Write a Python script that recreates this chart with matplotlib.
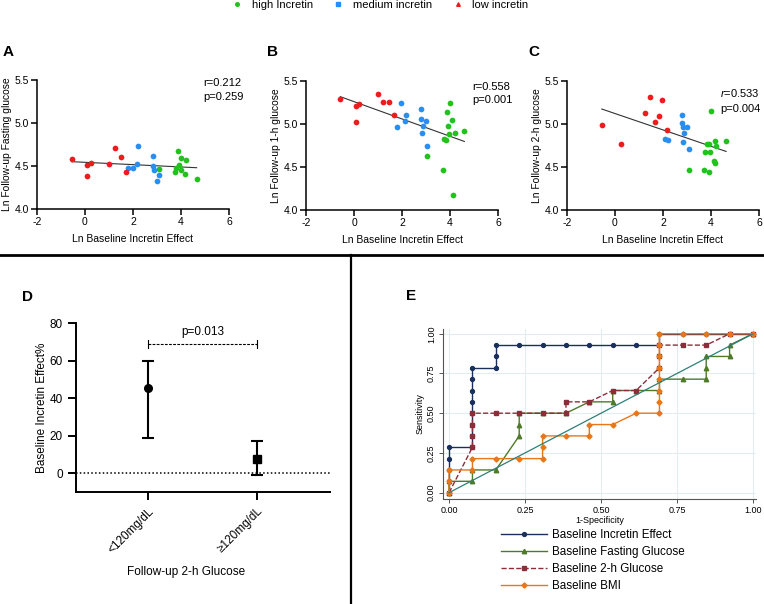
import numpy as np
import matplotlib
matplotlib.use('Agg')
import matplotlib.pyplot as plt
from matplotlib.lines import Line2D

plt.rcParams['font.family'] = ['Liberation Sans', 'DejaVu Sans']
plt.rcParams['mathtext.fontset'] = 'custom'
plt.rcParams['mathtext.rm'] = 'Liberation Sans'
plt.rcParams['mathtext.it'] = 'Liberation Sans:italic'
plt.rcParams['axes.unicode_minus'] = False

RED, BLUE, GREEN = '#ee1c1c', '#2a8ef0', '#22c21c'

# --- panel A: ln follow-up fasting glucose vs ln baseline incretin effect
a_low_x = [-0.55, 0.10, 0.10, 0.25, 1.00, 1.25, 1.50, 1.70]
a_low_y = [4.58, 4.51, 4.38, 4.54, 4.52, 4.71, 4.61, 4.43]
a_med_x = [2.20, 2.16, 1.81, 2.00, 2.83, 2.83, 2.87, 3.08, 3.02]
a_med_y = [4.735, 4.52, 4.48, 4.48, 4.62, 4.50, 4.455, 4.40, 4.33]
a_high_x = [3.87, 3.99, 4.22, 3.91, 3.79, 3.73, 3.98, 4.18, 3.09, 4.65]
a_high_y = [4.68, 4.59, 4.575, 4.51, 4.48, 4.43, 4.45, 4.41, 4.47, 4.35]

# --- panel B: 1-h glucose
b_low_x = [-0.57, 0.08, 0.21, 0.08, 0.98, 1.22, 1.46, 1.67]
b_low_y = [5.29, 5.21, 5.23, 5.02, 5.35, 5.26, 5.26, 5.10]
b_med_x = [1.96, 2.17, 2.12, 1.81, 2.79, 2.79, 2.98, 2.86, 2.82, 3.04]
b_med_y = [5.25, 5.10, 5.04, 4.97, 5.18, 5.06, 5.03, 4.98, 4.90, 4.75]
b_high_x = [4.01, 3.87, 3.92, 4.10, 3.95, 4.20, 4.60, 3.76, 3.85, 3.04, 3.70, 4.13]
b_high_y = [5.25, 5.14, 4.98, 5.05, 4.88, 4.90, 4.92, 4.82, 4.81, 4.63, 4.46, 4.17]

# --- panel C: 2-h glucose
c_low_x = [-0.55, 0.24, 1.24, 1.47, 1.97, 1.82, 1.68, 2.15]
c_low_y = [4.99, 4.77, 5.13, 5.31, 5.28, 5.09, 5.02, 4.93]
c_med_x = [2.79, 2.80, 2.82, 3.00, 2.89, 2.07, 2.19, 2.84, 3.07]
c_med_y = [5.11, 5.01, 4.96, 4.97, 4.89, 4.83, 4.81, 4.79, 4.71]
c_high_x = [4.02, 3.91, 3.83, 4.17, 4.63, 4.21, 3.96, 3.77, 4.12, 4.15, 3.07, 3.72, 3.91]
c_high_y = [5.15, 4.77, 4.77, 4.80, 4.80, 4.74, 4.68, 4.67, 4.57, 4.55, 4.47, 4.46, 4.44]

# --- panel D: baseline incretin effect by follow-up 2-h glucose
d_groups = ['<120mg/dL', '\u2265120mg/dL']
d_mean = [45.5, 7.5]
d_low = [18.5, -1.0]
d_high = [60.0, 17.0]

# --- panel E: ROC curves (1-specificity, sensitivity)
roc_labels = ['Baseline Incretin Effect', 'Baseline Fasting Glucose',
              'Baseline 2-h Glucose', 'Baseline BMI']
inc_fpr = [0, 0, 0, 0, 0, 1, 1, 1, 1, 1, 1, 1, 1, 2, 2, 2, 3, 4, 5, 6, 7, 8, 9, 9, 10, 11, 12, 13]
inc_tpr = [0, 1, 2, 3, 4, 4, 5, 6, 7, 8, 9, 10, 11, 11, 12, 13, 13, 13, 13, 13, 13, 13, 13, 14, 14, 14, 14, 14]
fast_fpr = [0, 0, 1, 1, 2, 3, 3, 3, 4, 5, 6, 7, 7, 8, 9, 9, 10, 11, 11, 11, 12, 12, 13]
fast_tpr = [0, 1, 1, 2, 2, 5, 6, 7, 7, 7, 8, 8, 9, 9, 9, 10, 10, 10, 11, 12, 12, 13, 14]
g2h_fpr = [0, 1, 1, 1, 1, 2, 3, 4, 5, 5, 6, 7, 8, 9, 9, 9, 10, 11, 12, 13]
g2h_tpr = [0, 4, 5, 6, 7, 7, 7, 7, 7, 8, 8, 9, 9, 11, 12, 13, 13, 13, 14, 14]
bmi_fpr = [0, 0, 0, 1, 1, 2, 3, 4, 4, 4, 5, 6, 6, 7, 8, 9, 9, 9, 9, 9, 9, 9, 9, 10, 11, 12, 13]
bmi_tpr = [0, 1, 2, 2, 3, 3, 3, 3, 4, 5, 5, 5, 6, 6, 7, 7, 8, 9, 10, 11, 12, 13, 14, 14, 14, 14, 14]
n_neg, n_pos = 13, 14

W, H = 764, 604


def box(l, t, r, b):
    return [l / W, 1 - b / H, (r - l) / W, (b - t) / H]


fig = plt.figure(figsize=(W / 100, H / 100), dpi=100)


def scatter_panel(rect, low, med, high, ylabel, rtxt, ptxt, rpos, ppos):
    ax = fig.add_axes(rect)
    for (x, y), c in zip([high, med, low], [GREEN, BLUE, RED]):
        ax.scatter(x, y, s=17, color=c, lw=0, zorder=3, clip_on=False)
    allx = np.concatenate([low[0], med[0], high[0]])
    ally = np.concatenate([low[1], med[1], high[1]])
    k, b = np.polyfit(allx, ally, 1)
    xx = np.array([allx.min(), allx.max()])
    ax.plot(xx, k * xx + b, color='#333333', lw=0.8, zorder=2)
    ax.set_xlim(-2, 6)
    ax.set_ylim(4.0, 5.5)
    ax.set_xticks([-2, 0, 2, 4, 6])
    ax.set_yticks([4.0, 4.5, 5.0, 5.5])
    ax.set_yticklabels(['4.0', '4.5', '5.0', '5.5'])
    for s in ['top', 'right']:
        ax.spines[s].set_visible(False)
    for s in ['left', 'bottom']:
        ax.spines[s].set_linewidth(1.1)
    ax.tick_params(direction='out', length=4, width=1.1, labelsize=7.5, pad=2)
    ax.set_xlabel('Ln Baseline Incretin Effect', fontsize=7.5, labelpad=5)
    ax.set_ylabel(ylabel, fontsize=7.4, labelpad=2)
    ax.text(rpos[0], rpos[1], rtxt, transform=ax.transAxes, fontsize=8, va='center')
    ax.text(ppos[0], ppos[1], ptxt, transform=ax.transAxes, fontsize=8, va='center')
    return ax


scatter_panel(box(37, 80, 229, 209), (a_low_x, a_low_y), (a_med_x, a_med_y),
              (a_high_x, a_high_y), 'Ln Follow-up Fasting glucose',
              'r=0.212', 'p=0.259', (0.865, 0.977), (0.865, 0.868))
scatter_panel(box(306, 81, 498, 210), (b_low_x, b_low_y), (b_med_x, b_med_y),
              (b_high_x, b_high_y), 'Ln Follow-up 1-h glucose',
              'r=0.558', 'p=0.001', (0.865, 0.953), (0.865, 0.853))
scatter_panel(box(567, 81, 759, 210), (c_low_x, c_low_y), (c_med_x, c_med_y),
              (c_high_x, c_high_y), 'Ln Follow-up 2-h glucose',
              r'$\mathit{r}$=0.533', 'p=0.004', (0.797, 0.907), (0.797, 0.783))

# panel D
axd = fig.add_axes(box(76, 323, 330, 492))
xpos = np.arange(len(d_groups))
mean = np.array(d_mean)
yerr = [mean - np.array(d_low), np.array(d_high) - mean]
for i, m in enumerate(['o', 's']):
    axd.errorbar(xpos[i], mean[i], yerr=[[yerr[0][i]], [yerr[1][i]]], fmt=m,
                 color='black', ms=5.5, lw=1.5, capsize=4, capthick=1.5, zorder=3)
axd.axhline(0, color='black', ls=(0, (1, 1.5)), lw=1.1, zorder=1)
yb = 68.8
axd.plot(xpos, [yb, yb], color='black', lw=0.8, ls=(0, (2.5, 1.2)))
for x in xpos:
    axd.plot([x, x], [yb - 2.2, yb + 2.2], color='black', lw=0.8)
axd.text(xpos.mean(), yb + 3, 'p=0.013', ha='center', va='bottom', fontsize=8.5)
axd.set_xlim(-0.66, 1.67)
axd.set_ylim(-10, 80)
axd.set_yticks([0, 20, 40, 60, 80])
axd.set_xticks(xpos)
axd.set_xticklabels(d_groups, rotation=45, ha='right', va='top',
                    rotation_mode='anchor', fontsize=8.5)
for s in ['top', 'right']:
    axd.spines[s].set_visible(False)
for s in ['left', 'bottom']:
    axd.spines[s].set_linewidth(1.4)
axd.tick_params(direction='out', length=6, width=1.4, labelsize=8.5)
axd.set_ylabel('Baseline Incretin Effect%', fontsize=8.5, labelpad=1)
axd.set_xlabel('Follow-up 2-h Glucose', fontsize=8.5)
axd.xaxis.set_label_coords(0.433, -0.44)

# panel E
axe = fig.add_axes(box(443, 329, 756, 499))
axe.plot([0, 1], [0, 1], color='#2f7f78', lw=0.9, zorder=5)
roc = [(inc_fpr, inc_tpr, '#1a2f5c', 'o', 2.8, '-'),
       (fast_fpr, fast_tpr, '#4f7a2a', '^', 3.2, '-'),
       (g2h_fpr, g2h_tpr, '#8b2e3a', 's', 2.8, '--'),
       (bmi_fpr, bmi_tpr, '#e8771a', 'D', 2.6, '-')]
handles = []
for (fx, ty, c, m, ms, ls), lab in zip(roc, roc_labels):
    h, = axe.plot(np.array(fx) / n_neg, np.array(ty) / n_pos, color=c, marker=m,
                  ms=ms, lw=1.0, ls=ls, label=lab, clip_on=False)
    handles.append(h)
axe.set_xlim(-0.02, 1.01)
axe.set_ylim(-0.04, 1.03)
ticks = [0, 0.25, 0.5, 0.75, 1.0]
axe.set_xticks(ticks)
axe.set_yticks(ticks)
axe.set_xticklabels(['%.2f' % t for t in ticks])
axe.set_yticklabels(['%.2f' % t for t in ticks], rotation=90, va='center')
axe.grid(True, color='#e3edf1', lw=0.8)
axe.set_axisbelow(True)
for s in ['top', 'right']:
    axe.spines[s].set_visible(False)
for s in ['left', 'bottom']:
    axe.spines[s].set_color('#555555')
    axe.spines[s].set_linewidth(0.8)
axe.tick_params(direction='out', length=3, width=0.7, color='#555555',
                labelsize=6.5, pad=2)
axe.set_xlabel('1-Specificity', fontsize=6.5, labelpad=1)
axe.set_ylabel('Sensitivity', fontsize=6.5, labelpad=2)
fig.legend(handles=handles, loc='upper left',
           bbox_to_anchor=(501 / W, 1 - 529 / H), frameon=False, fontsize=8.4,
           handlelength=3.9, handletextpad=0.5, labelspacing=0.42,
           borderpad=0, borderaxespad=0)

# top legend for incretin groups
leg_items = [('high Incretin', GREEN, 'o'), ('medium incretin', BLUE, 's'),
             ('low incretin', RED, '^')]
fig.legend(handles=[Line2D([], [], ls='none', marker=m, color=c, ms=2.6)
                    for _, c, m in leg_items],
           labels=[t for t, _, _ in leg_items], loc='upper center', ncol=3,
           bbox_to_anchor=(380 / W, 1 - 0 / H), frameon=False, fontsize=8,
           handlelength=1, handletextpad=0.8, columnspacing=1.8,
           borderpad=0, borderaxespad=0)

# panel letters
for lab, x, y in [('A', 3, 52), ('B', 267, 52), ('C', 528, 52),
                  ('D', 22, 297), ('E', 406, 296)]:
    fig.text(x / W, 1 - y / H, lab, fontsize=11, weight='bold', va='center')

# separators
fig.add_artist(Line2D([0, 1], [1 - 255 / H] * 2, color='black', lw=2,
                      transform=fig.transFigure))
fig.add_artist(Line2D([351 / W] * 2, [0, 1 - 255 / H], color='black', lw=1.6,
                      transform=fig.transFigure))

fig.savefig('out.png', dpi=100)
